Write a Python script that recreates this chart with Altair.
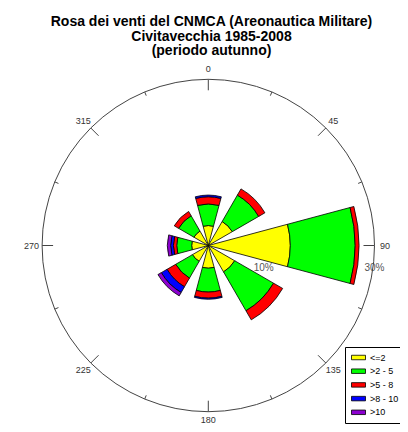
import math
import altair as alt
import pandas as pd

# ---------------- data ----------------
directions = [0, 45, 90, 135, 180, 225, 270, 315]
speed_classes = ["<=2", ">2 - 5", ">5 - 8", ">8 - 10", ">10"]
class_colors = ["#ffff00", "#00ff00", "#ff0000", "#0000ff", "#8c00d0"]

# frequency (%) of each wind speed class, per direction
freq_le2 = [3.6, 5.0, 14.8, 5.5, 4.1, 3.3, 3.0, 3.0]
freq_2_5 = [3.9, 5.5, 11.7, 8.1, 4.3, 3.5, 2.7, 3.2]
freq_5_8 = [1.3, 1.3, 0.7, 1.9, 1.1, 1.8, 0.6, 0.9]
freq_8_10 = [0.3, 0.0, 0.0, 0.0, 0.2, 1.2, 0.5, 0.0]
freq_gt10 = [0.0, 0.0, 0.0, 0.0, 0.0, 0.7, 0.6, 0.0]

compass_angles = [0, 45, 90, 135, 180, 225, 270, 315]
compass_labels = ["0", "45", "90", "135", "180", "225", "270", "315"]
tick_angles = [i * 22.5 for i in range(16)]
ring_values = [10, 30]
ring_labels = ["10%", "30%"]
title_lines = [
    "Rosa dei venti del CNMCA (Areonautica Militare)",
    "Civitavecchia 1985-2008",
    "(periodo autunno)",
]

# ---------------- layout ----------------
W, H = 392, 416
CX, CY = 200.3, 237.5
RMAX_PCT = 30
RMAX_PX = 166.2
HALF = 15
FONT = "Liberation Sans"

series = [freq_le2, freq_2_5, freq_5_8, freq_8_10, freq_gt10]
rows = []
for i, d in enumerate(directions):
    cum = 0.0
    for k, cls in enumerate(speed_classes):
        v = series[k][i]
        if v <= 0:
            continue
        rows.append(dict(dir=d, cls=cls, r0=cum, r1=cum + v))
        cum += v
df = pd.DataFrame(rows)

theta_scale = alt.Scale(domain=[0, 360], range=[0, 2 * math.pi])
radius_scale = alt.Scale(type="linear", domain=[0, RMAX_PCT], range=[0, RMAX_PX], zero=True)

wedges = (
    alt.Chart(df)
    .transform_calculate(t0=f"datum.dir - {HALF}", t1=f"datum.dir + {HALF}")
    .mark_arc(stroke="black", strokeWidth=0.8)
    .encode(
        x=alt.value(CX),
        y=alt.value(CY),
        theta=alt.Theta("t0:Q", scale=theta_scale, stack=None),
        theta2="t1:Q",
        radius=alt.Radius("r1:Q", scale=radius_scale),
        radius2="r0:Q",
        color=alt.Color(
            "cls:N",
            scale=alt.Scale(domain=speed_classes, range=class_colors),
            legend=alt.Legend(
                title=None,
                orient="none",
                legendX=337,
                legendY=339,
                strokeColor="black",
                fillColor="white",
                padding=5,
                cornerRadius=0,
                symbolType="M-1.4,-0.45H1.4V0.45H-1.4Z",
                symbolSize=100,
                symbolOffset=3,
                symbolStrokeColor="black",
                symbolStrokeWidth=0.8,
                symbolOpacity=1,
                labelFont=FONT,
                labelFontSize=9,
                labelColor="black",
                labelOffset=6,
                rowPadding=2.7,
            ),
        ),
    )
)

circle = (
    alt.Chart(pd.DataFrame({"r": [RMAX_PCT]}))
    .mark_arc(fillOpacity=0, stroke="#444444", strokeWidth=1)
    .encode(
        x=alt.value(CX),
        y=alt.value(CY),
        theta=alt.value(0),
        theta2=alt.value(2 * math.pi),
        radius=alt.Radius("r:Q", scale=radius_scale),
    )
)

ticks_df = pd.DataFrame({"a": tick_angles})
ticks = (
    alt.Chart(ticks_df)
    .transform_calculate(
        L="(datum.a % 45 == 0) ? 11 : 4",
        x1=f"{CX} + {RMAX_PX} * sin(datum.a * PI / 180)",
        y1=f"{CY} - {RMAX_PX} * cos(datum.a * PI / 180)",
        x2=f"{CX} + ({RMAX_PX} - datum.L) * sin(datum.a * PI / 180)",
        y2=f"{CY} - ({RMAX_PX} - datum.L) * cos(datum.a * PI / 180)",
    )
    .mark_rule(color="#444444", strokeWidth=1)
    .encode(
        x=alt.X("x1:Q", scale=None, axis=None),
        y=alt.Y("y1:Q", scale=None, axis=None),
        x2="x2:Q",
        y2="y2:Q",
    )
)

compass_df = pd.DataFrame({"a": compass_angles, "label": compass_labels})
compass = (
    alt.Chart(compass_df)
    .transform_calculate(
        px=f"{CX} + {RMAX_PX + 10.5} * sin(datum.a * PI / 180)",
        py=f"min({CY} - {RMAX_PX + 10.5} * cos(datum.a * PI / 180), {H - 4.5})",
    )
    .mark_text(font=FONT, fontSize=9, color="#333333", align="center", baseline="middle")
    .encode(
        x=alt.X("px:Q", scale=None, axis=None),
        y=alt.Y("py:Q", scale=None, axis=None),
        text="label:N",
    )
)

ring_df = pd.DataFrame({"r": ring_values, "label": ring_labels})
rings = (
    alt.Chart(ring_df)
    .transform_calculate(
        px=f"{CX} + datum.r * {RMAX_PX / RMAX_PCT}",
        py=f"{CY} + 22",
    )
    .mark_text(font=FONT, fontSize=10, color="#555555", align="center", baseline="middle")
    .encode(
        x=alt.X("px:Q", scale=None, axis=None),
        y=alt.Y("py:Q", scale=None, axis=None),
        text="label:N",
    )
)

title_df = pd.DataFrame({"i": list(range(len(title_lines))), "t": title_lines})
title = (
    alt.Chart(title_df)
    .transform_calculate(px=f"{CX + 3.2}", py="14 + 14.6 * datum.i")
    .mark_text(font=FONT, fontSize=14, fontWeight="bold", color="black", align="center", baseline="middle")
    .encode(
        x=alt.X("px:Q", scale=None, axis=None),
        y=alt.Y("py:Q", scale=None, axis=None),
        text="t:N",
    )
)

chart = (
    alt.layer(rings, wedges, circle, ticks, compass, title)
    .resolve_scale(x="independent", y="independent")
    .properties(width=W, height=H, padding=0, autosize=alt.AutoSizeParams(type="none"))
    .configure_view(stroke=None)
)

chart.save("out.html", embed_options={"renderer": "svg", "actions": False})
